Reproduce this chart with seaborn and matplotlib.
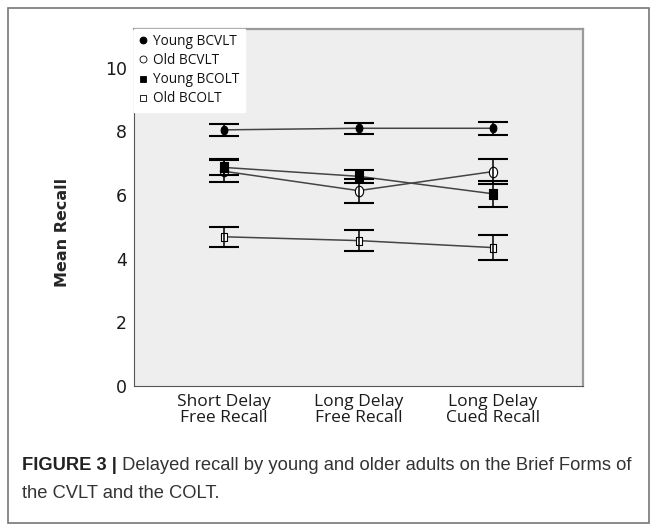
import numpy as np
import pandas as pd
import seaborn as sns
import matplotlib.pyplot as plt
from matplotlib.path import Path
from matplotlib.transforms import Affine2D
from matplotlib.lines import Line2D
from matplotlib.patches import Rectangle

# values (means and half-width of the error bars)
conditions = ["Short Delay\nFree Recall", "Long Delay\nFree Recall", "Long Delay\nCued Recall"]
groups = ["Young BCVLT", "Old BCVLT", "Young BCOLT", "Old BCOLT"]

young_bcvlt = [8.05, 8.10, 8.10]
young_bcvlt_err = [0.20, 0.18, 0.21]
old_bcvlt = [6.75, 6.14, 6.74]
old_bcvlt_err = [0.34, 0.38, 0.39]
young_bcolt = [6.87, 6.59, 6.04]
young_bcolt_err = [0.25, 0.20, 0.40]
old_bcolt = [4.69, 4.57, 4.35]
old_bcolt_err = [0.31, 0.32, 0.39]

means = [young_bcvlt, old_bcvlt, young_bcolt, old_bcolt]
errs = [young_bcvlt_err, old_bcvlt_err, young_bcolt_err, old_bcolt_err]
filled = [True, False, True, False]

df = pd.DataFrame({
    "condition": conditions * 4,
    "recall": sum(means, []),
    "group": np.repeat(groups, 3),
})

sns.set_style("white")
plt.rcParams["font.family"] = ["Open Sans", "DejaVu Sans"]

# slightly tall markers, like the squashed SPSS output
ellipse = Path.unit_circle().transformed(Affine2D().scale(0.78, 1.0))
box = Path([(-0.4, -0.5), (0.4, -0.5), (0.4, 0.5), (-0.4, 0.5), (-0.4, -0.5)], closed=True)
marker_list = [ellipse, ellipse, box, box]
marker_sizes = [6.2, 7.6, 7.2, 6.2]

fig = plt.figure(figsize=(6.57, 5.31), dpi=100)
ax = fig.add_axes([134 / 657, 1 - 386 / 531, 449 / 657, 357 / 531])
ax.set_facecolor("#eeeeee")

sns.pointplot(data=df, x="condition", y="recall", hue="group", hue_order=groups,
              order=conditions, palette=["black"] * 4, markers=marker_list,
              linestyles="-", errorbar=None, legend=False, ax=ax)

for line, full, ms in zip(ax.lines[:4], filled, marker_sizes):
    line.set_color("#444444")
    line.set_linewidth(1.1)
    line.set_markersize(ms)
    line.set_markeredgecolor("black")
    line.set_markeredgewidth(0.8)
    line.set_markerfacecolor("black" if full else "white")
    line.set_zorder(2)

xs = np.arange(len(conditions))
for m, e in zip(means, errs):
    _, caps, bars = ax.errorbar(xs, m, yerr=e, fmt="none", ecolor="black",
                                elinewidth=1.1, capsize=10.8, capthick=1.5, zorder=3)
    for c in caps:
        c.set_color("#3a3a3a")

ax.set_xlim(-0.667, 2.667)
ax.set_ylim(0, 11.22)
ax.set_yticks([0, 2, 4, 6, 8, 10])
ax.tick_params(axis="both", length=0)
ax.tick_params(axis="x", pad=6)
ax.tick_params(axis="y", pad=5)
for lab in ax.get_xticklabels():
    lab.set_fontsize(12.5)
    lab.set_linespacing(0.95)
    lab.set_color("#1a1a1a")
for lab in ax.get_yticklabels():
    lab.set_fontsize(12.5)
    lab.set_family("DejaVu Sans")
    lab.set_color("#1a1a1a")

ax.set_xlabel("")
ax.set_ylabel("Mean Recall", fontsize=11.5, fontweight="bold", family="DejaVu Sans")
ax.yaxis.set_label_coords(-0.143, 0.43)

ax.spines["left"].set_color("#555555")
ax.spines["bottom"].set_color("#555555")
ax.spines["top"].set_color("#9a9a9a")
ax.spines["right"].set_color("#9a9a9a")
ax.spines["top"].set_linewidth(1.6)
ax.spines["right"].set_linewidth(1.6)

handles = [Line2D([], [], linestyle="none", marker=mk, markersize=5,
                  markerfacecolor="black" if full else "white",
                  markeredgecolor="black", markeredgewidth=0.6)
           for mk, full in zip(["o", "o", "s", "s"], filled)]
leg = ax.legend(handles, groups, loc="upper left", bbox_to_anchor=(0, 1),
                borderaxespad=0, frameon=True, fancybox=False, framealpha=1,
                facecolor="white", edgecolor="white", fontsize=9.8,
                handlelength=0.6, handletextpad=0.45, labelspacing=0.3,
                borderpad=0.38)
for t in leg.get_texts():
    t.set_color("#111111")

# caption under the chart
cap_y1 = 1 - 466 / 531
cap_y2 = 1 - 494 / 531
t1 = fig.text(22 / 657, cap_y1, "FIGURE 3 |", fontsize=13.2, fontweight="bold",
              family="Liberation Sans", va="center", color="#222222")
fig.canvas.draw()
bb = t1.get_window_extent()
fig.text(bb.x1 / fig.bbox.width, cap_y1,
         " Delayed recall by young and older adults on the Brief Forms of",
         fontsize=13.2, family="Liberation Sans", va="center", color="#333333")
fig.text(22 / 657, cap_y2, "the CVLT and the COLT.", fontsize=13.2,
         family="Liberation Sans", va="center", color="#333333")

fig.patches.append(Rectangle((8 / 657, 8 / 531), 641 / 657, 515 / 531,
                             transform=fig.transFigure, fill=False,
                             edgecolor="#777777", linewidth=1.2))

fig.savefig("out.png", dpi=100)
